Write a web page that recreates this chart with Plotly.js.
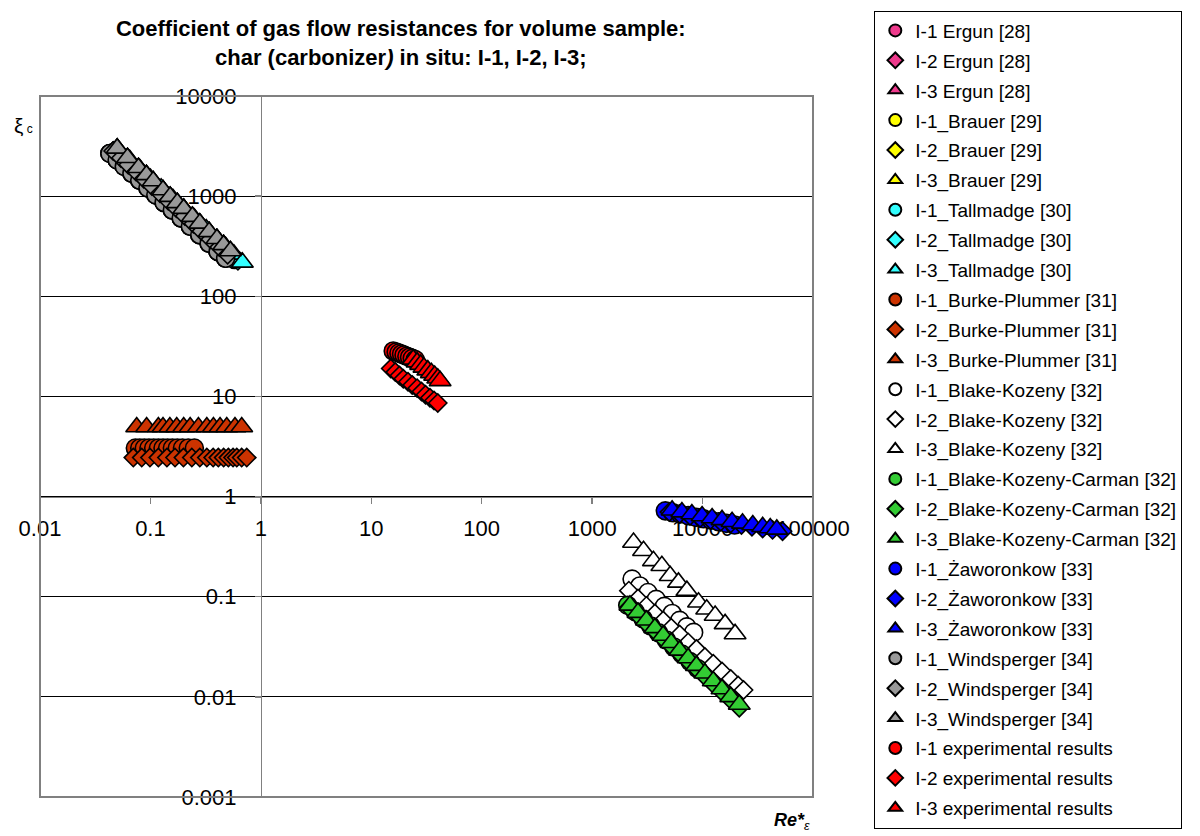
<!DOCTYPE html>
<html>
<head>
<meta charset="utf-8">
<script src="https://cdn.plot.ly/plotly-3.0.1.min.js"></script>
<style>html,body{margin:0;padding:0;background:#fff;}#chart{width:1200px;height:836px;}</style>
</head>
<body>
<div id="chart"></div>
<script>
// ---------- tick labels ----------
const xTickVals = [0.01, 0.1, 1, 10, 100, 1000, 10000, 100000];
const xTickText = ["0.01", "0.1", "1", "10", "100", "1000", "10000", "100000"];
const yTickVals = [0.001, 0.01, 0.1, 1, 10, 100, 1000, 10000];
const yTickText = ["0.001", "0.01", "0.1", "1", "10", "100", "1000", "10000"];

// ---------- series (Re*, xi_c) ----------
// Ergun [28] (hidden beneath Windsperger markers)
const ergunI1X = [0.043, 0.05, 0.058, 0.068, 0.08, 0.095, 0.112, 0.133, 0.158, 0.19, 0.23, 0.28, 0.34, 0.41, 0.48];
const ergunI1Y = [2670, 2300, 1980, 1690, 1440, 1210, 1030, 865, 728, 605, 500, 411, 338, 280, 240];
const ergunI2X = [0.046, 0.054, 0.063, 0.074, 0.087, 0.103, 0.122, 0.145, 0.172, 0.205, 0.245, 0.29, 0.35, 0.42, 0.5];
const ergunI2Y = [2826, 2407, 2063, 1757, 1494, 1262, 1066, 897, 756, 634, 531, 448, 371, 310, 260];
const ergunI3X = [0.05, 0.062, 0.078, 0.092, 0.106, 0.13, 0.151, 0.175, 0.2, 0.24, 0.28, 0.34, 0.4, 0.46, 0.53];
const ergunI3Y = [3000, 2420, 1920, 1630, 1415, 1150, 990, 857, 750, 625, 535, 440, 375, 326, 283];
// Brauer [29] (hidden beneath Windsperger markers)
const brauerI1X = [0.043, 0.05, 0.058, 0.068, 0.08, 0.095, 0.112, 0.133, 0.158, 0.19, 0.23, 0.28, 0.34, 0.41, 0.48];
const brauerI1Y = [2670, 2300, 1980, 1690, 1440, 1210, 1030, 865, 728, 605, 500, 411, 338, 280, 240];
const brauerI2X = [0.046, 0.054, 0.063, 0.074, 0.087, 0.103, 0.122, 0.145, 0.172, 0.205, 0.245, 0.29, 0.35, 0.42, 0.5];
const brauerI2Y = [2826, 2407, 2063, 1757, 1494, 1262, 1066, 897, 756, 634, 531, 448, 371, 310, 260];
const brauerI3X = [0.05, 0.062, 0.078, 0.092, 0.106, 0.13, 0.151, 0.175, 0.2, 0.24, 0.28, 0.34, 0.4, 0.46, 0.53];
const brauerI3Y = [3000, 2420, 1920, 1630, 1415, 1150, 990, 857, 750, 625, 535, 440, 375, 326, 283];
// Tallmadge [30]
const tallI1X = [0.06, 0.075, 0.095, 0.12, 0.15, 0.19, 0.24, 0.3, 0.38, 0.47, 0.58];
const tallI1Y = [2250, 1800, 1420, 1125, 900, 710, 562, 450, 355, 287, 233];
const tallI2X = [0.062, 0.078, 0.098, 0.124, 0.155, 0.195, 0.245, 0.31, 0.39, 0.49, 0.62];
const tallI2Y = [2258, 1795, 1429, 1129, 903, 718, 571, 452, 359, 286, 226];
const tallI3X = [0.065, 0.08, 0.1, 0.125, 0.16, 0.2, 0.25, 0.32, 0.4, 0.48, 0.57, 0.68];
const tallI3Y = [2300, 1880, 1500, 1200, 940, 750, 600, 470, 375, 312, 262, 218];
// Burke-Plummer [31]
const bpI1X = [0.073, 0.08, 0.088, 0.097, 0.107, 0.118, 0.13, 0.143, 0.158, 0.175, 0.195, 0.22, 0.25];
const bpI1Y = [3.05, 3.05, 3.05, 3.05, 3.05, 3.05, 3.05, 3.05, 3.05, 3.05, 3.05, 3.05, 3.05];
const bpI2X = [0.07, 0.0834, 0.099, 0.118, 0.141, 0.167, 0.199, 0.237, 0.28, 0.324, 0.37, 0.412, 0.46, 0.508, 0.56, 0.605, 0.67, 0.745];
const bpI2Y = [2.45, 2.45, 2.45, 2.45, 2.45, 2.45, 2.45, 2.45, 2.45, 2.45, 2.45, 2.45, 2.45, 2.45, 2.45, 2.45, 2.45, 2.45];
const bpI3X = [0.0751, 0.0924, 0.118, 0.13, 0.15, 0.173, 0.2, 0.229, 0.272, 0.324, 0.372, 0.427, 0.491, 0.583, 0.671];
const bpI3Y = [4.95, 4.95, 4.95, 4.95, 4.95, 4.95, 4.95, 4.95, 4.95, 4.95, 4.95, 4.95, 4.95, 4.95, 4.95];
// Blake-Kozeny [32]
const bkI1X = [2300, 2700, 3200, 3800, 4500, 5300, 6200, 7200, 8300];
const bkI1Y = [0.15, 0.128, 0.11, 0.094, 0.08, 0.068, 0.058, 0.05, 0.044];
const bkI2X = [2150, 2600, 3100, 3700, 4400, 5200, 6200, 7400, 8800, 10500, 12500, 15000, 18000, 21000, 23500];
const bkI2Y = [0.115, 0.096, 0.081, 0.068, 0.058, 0.049, 0.042, 0.035, 0.03, 0.025, 0.0214, 0.0179, 0.0151, 0.013, 0.0117];
const bkI3X = [2370, 2920, 3590, 4280, 5090, 6050, 7210, 9190, 10900, 13000, 16000, 19700];
const bkI3Y = [0.348, 0.288, 0.228, 0.204, 0.162, 0.139, 0.115, 0.088, 0.075, 0.065, 0.0535, 0.0425];
// Blake-Kozeny-Carman [32]
const bkcI1X = [2100, 2450, 2900, 3400, 4000, 4700, 5500, 6500, 7700, 9000];
const bkcI1Y = [0.082, 0.071, 0.06, 0.051, 0.0435, 0.037, 0.0315, 0.0267, 0.0225, 0.0192];
const bkcI2X = [2150, 2600, 3100, 3700, 4400, 5200, 6200, 7400, 8800, 10500, 12500, 15000, 18000, 21500];
const bkcI2Y = [0.078, 0.065, 0.054, 0.0455, 0.038, 0.0322, 0.027, 0.0227, 0.019, 0.016, 0.0134, 0.0112, 0.0093, 0.0078];
const bkcI3X = [2200, 2600, 3100, 3700, 4400, 5200, 6200, 7400, 8800, 10500, 12500, 15000, 18000, 21500];
const bkcI3Y = [0.082, 0.0694, 0.0582, 0.0488, 0.041, 0.0347, 0.0291, 0.0244, 0.0205, 0.0172, 0.0144, 0.012, 0.01, 0.0084];
// Żaworonkow [33]
const zawI1X = [4600, 5400, 6300, 7400, 8700, 10200, 12000, 14000, 16500, 19500];
const zawI1Y = [0.72, 0.69, 0.67, 0.645, 0.62, 0.6, 0.58, 0.56, 0.54, 0.52];
const zawI2X = [5000, 6200, 7700, 9500, 11800, 14600, 18000, 22500, 28000, 35000, 43000, 53000];
const zawI2Y = [0.7, 0.67, 0.64, 0.61, 0.585, 0.56, 0.54, 0.52, 0.5, 0.48, 0.465, 0.45];
const zawI3X = [5300, 6500, 8000, 9900, 12200, 15000, 18500, 23000, 28500, 35000, 41000, 47000];
const zawI3Y = [0.73, 0.7, 0.67, 0.64, 0.61, 0.585, 0.56, 0.54, 0.52, 0.5, 0.485, 0.47];
// Windsperger [34]
const winI1X = [0.043, 0.05, 0.058, 0.068, 0.08, 0.095, 0.112, 0.133, 0.158, 0.19, 0.23, 0.28, 0.34, 0.41, 0.48];
const winI1Y = [2670, 2300, 1980, 1690, 1440, 1210, 1030, 865, 728, 605, 500, 411, 338, 280, 240];
const winI2X = [0.046, 0.054, 0.063, 0.074, 0.087, 0.103, 0.122, 0.145, 0.172, 0.205, 0.245, 0.29, 0.35, 0.42, 0.5];
const winI2Y = [2826, 2407, 2063, 1757, 1494, 1262, 1066, 897, 756, 634, 531, 448, 371, 310, 260];
const winI3X = [0.05, 0.062, 0.078, 0.092, 0.106, 0.13, 0.151, 0.175, 0.2, 0.24, 0.28, 0.34, 0.4, 0.46, 0.53];
const winI3Y = [3000, 2420, 1920, 1630, 1415, 1150, 990, 857, 750, 625, 535, 440, 375, 326, 283];
// experimental results
const expI1X = [15.8, 16.8, 17.8, 18.8, 19.8, 21, 22.2, 23.5, 25];
const expI1Y = [28.4, 27.8, 27.1, 26.5, 25.9, 25.2, 24.6, 24, 23.3];
const expI2X = [15, 16.5, 18, 19.5, 21.5, 23.5, 26, 28.5, 31, 34, 37, 40];
const expI2Y = [19, 17.5, 16.2, 15, 14, 13, 12.1, 11.2, 10.4, 9.7, 9.1, 8.6];
const expI3X = [24, 26, 28, 30, 32.5, 35, 37.5, 40, 42];
const expI3Y = [23.5, 22, 20.8, 19.5, 18.3, 17.2, 16.2, 15.2, 14.3];

// ---------- styling ----------
const FONT = "Arial, 'Liberation Sans', sans-serif";
const SYM = {c: "circle", d: "diamond", t: "triangle-up"};
const SIZE = {c: 18, d: 14, t: 19};

const seriesDefs = [
  ["I-1 Ergun [28]", ergunI1X, ergunI1Y, "c", "#EE3A8C"],
  ["I-2 Ergun [28]", ergunI2X, ergunI2Y, "d", "#EE3A8C"],
  ["I-3 Ergun [28]", ergunI3X, ergunI3Y, "t", "#EE3A8C"],
  ["I-1_Brauer [29]", brauerI1X, brauerI1Y, "c", "#FFFF00"],
  ["I-2_Brauer [29]", brauerI2X, brauerI2Y, "d", "#FFFF00"],
  ["I-3_Brauer [29]", brauerI3X, brauerI3Y, "t", "#FFFF00"],
  ["I-1_Tallmadge [30]", tallI1X, tallI1Y, "c", "#33FFFF"],
  ["I-2_Tallmadge [30]", tallI2X, tallI2Y, "d", "#33FFFF"],
  ["I-3_Tallmadge [30]", tallI3X, tallI3Y, "t", "#33FFFF"],
  ["I-1_Burke-Plummer [31]", bpI1X, bpI1Y, "c", "#CC3300"],
  ["I-2_Burke-Plummer [31]", bpI2X, bpI2Y, "d", "#CC3300"],
  ["I-3_Burke-Plummer [31]", bpI3X, bpI3Y, "t", "#CC3300"],
  ["I-1_Blake-Kozeny [32]", bkI1X, bkI1Y, "c", "#FFFFFF"],
  ["I-2_Blake-Kozeny [32]", bkI2X, bkI2Y, "d", "#FFFFFF"],
  ["I-3_Blake-Kozeny [32]", bkI3X, bkI3Y, "t", "#FFFFFF"],
  ["I-1_Blake-Kozeny-Carman [32]", bkcI1X, bkcI1Y, "c", "#33CC33"],
  ["I-2_Blake-Kozeny-Carman [32]", bkcI2X, bkcI2Y, "d", "#33CC33"],
  ["I-3_Blake-Kozeny-Carman [32]", bkcI3X, bkcI3Y, "t", "#33CC33"],
  ["I-1_Żaworonkow [33]", zawI1X, zawI1Y, "c", "#0000FF"],
  ["I-2_Żaworonkow [33]", zawI2X, zawI2Y, "d", "#0000FF"],
  ["I-3_Żaworonkow [33]", zawI3X, zawI3Y, "t", "#0000FF"],
  ["I-1_Windsperger [34]", winI1X, winI1Y, "c", "#999999"],
  ["I-2_Windsperger [34]", winI2X, winI2Y, "d", "#999999"],
  ["I-3_Windsperger [34]", winI3X, winI3Y, "t", "#999999"],
  ["I-1 experimental results", expI1X, expI1Y, "c", "#FF0000"],
  ["I-2 experimental results", expI2X, expI2Y, "d", "#FF0000"],
  ["I-3 experimental results", expI3X, expI3Y, "t", "#FF0000"]
];

const traces = seriesDefs.map((s, i) => ({
  type: "scatter",
  mode: "markers",
  name: s[0],
  x: s[1],
  y: s[2],
  legendgroup: "g" + i,
  marker: {symbol: SYM[s[3]], size: SIZE[s[3]], color: s[4], line: {color: "#000000", width: 1.6}},
  hoverinfo: "x+y+name"
}));

const layout = {
  width: 1200,
  height: 836,
  paper_bgcolor: "#FFFFFF",
  plot_bgcolor: "#FFFFFF",
  margin: {l: 40, r: 387, t: 95, b: 39, pad: 0},
  font: {family: FONT, color: "#000000"},
  showlegend: true,
  title: {
    text: "<b>Coefficient of gas flow resistances for volume sample:<br>char (carbonizer<i>)</i> in situ: I-1, I-2, I-3;</b>",
    font: {family: FONT, size: 22, color: "#000000"},
    xref: "container", x: 0.334, xanchor: "center",
    yref: "container", y: 0.957, yanchor: "top"
  },
  xaxis: {
    type: "log",
    range: [-2, 5],
    anchor: "free",
    position: 3 / 7,
    tickmode: "array",
    tickvals: xTickVals,
    ticktext: xTickText,
    showgrid: false,
    zeroline: false,
    showline: true,
    linecolor: "#808080",
    linewidth: 1.5,
    ticks: "outside",
    ticklen: 6,
    tickwidth: 1.3,
    tickcolor: "#808080",
    ticklabelstandoff: 6,
    tickfont: {family: FONT, size: 22, color: "#000000"},
    layer: "below traces"
  },
  yaxis: {
    type: "log",
    range: [-3, 4],
    anchor: "free",
    position: 2 / 7,
    tickmode: "array",
    tickvals: yTickVals,
    ticktext: yTickText,
    showgrid: true,
    gridcolor: "#000000",
    gridwidth: 1,
    zeroline: false,
    showline: true,
    linecolor: "#808080",
    linewidth: 1.5,
    ticks: "outside",
    ticklen: 6,
    tickwidth: 1.3,
    tickcolor: "#808080",
    ticklabelstandoff: 14,
    tickfont: {family: FONT, size: 22, color: "#000000"},
    layer: "below traces"
  },
  legend: {
    x: 1.0793,
    xanchor: "left",
    y: 1.1203,
    yanchor: "top",
    maxheight: 836,
    bgcolor: "#FFFFFF",
    bordercolor: "#000000",
    borderwidth: 1,
    font: {family: FONT, size: 19, color: "#000000"},
    traceorder: "grouped",
    tracegroupgap: 2.2,
    itemsizing: "constant"
  },
  shapes: [
    {type: "rect", xref: "paper", yref: "paper", x0: 0, x1: 1, y0: 0, y1: 1,
     line: {color: "#808080", width: 2}, fillcolor: "rgba(0,0,0,0)", layer: "above"}
  ],
  annotations: [
    {xref: "paper", yref: "paper", x: -0.0357, y: 0.958, xanchor: "left", yanchor: "middle",
     text: "ξ<span style=\"font-size:12px\"> c</span>", showarrow: false,
     font: {family: FONT, size: 21, color: "#000000"}},
    {xref: "paper", yref: "paper", x: 0.947, y: -0.035, xanchor: "left", yanchor: "middle",
     text: "<b><i>Re*</i></b><sub><i>ε</i></sub>", showarrow: false,
     font: {family: FONT, size: 18, color: "#000000"}}
  ]
};

Plotly.newPlot("chart", traces, layout, {displayModeBar: false, staticPlot: true});
</script>
</body>
</html>
